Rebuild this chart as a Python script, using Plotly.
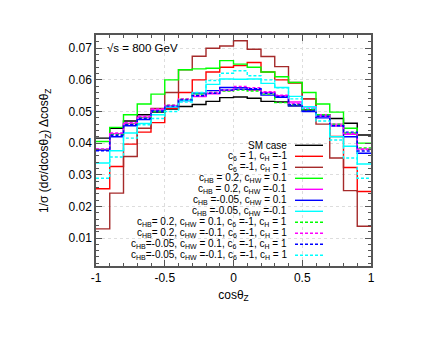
import plotly.graph_objects as go

bin_edges = [-1.0, -0.9, -0.8, -0.7, -0.6, -0.5, -0.4, -0.3, -0.2, -0.1, 0.0,
             0.1, 0.2, 0.3, 0.4, 0.5, 0.6, 0.7, 0.8, 0.9, 1.0]

sm_case = [0.0416, 0.0447, 0.0470, 0.0490, 0.0498, 0.0508, 0.0516, 0.0522, 0.0532, 0.0544,
           0.0546, 0.0542, 0.0532, 0.0530, 0.0518, 0.0505, 0.0490, 0.0478, 0.0463, 0.0426]
c6_p1_cH_m1 = [0.0256, 0.0326, 0.0397, 0.0435, 0.0465, 0.0510, 0.0560, 0.0600, 0.0625, 0.0640,
               0.0645, 0.0655, 0.0625, 0.0600, 0.0590, 0.0540, 0.0485, 0.0421, 0.0323, 0.0247]
c6_m1_cH_p1 = [0.0129, 0.0242, 0.0358, 0.0447, 0.0510, 0.0560, 0.0632, 0.0675, 0.0700, 0.0707,
               0.0724, 0.0697, 0.0674, 0.0642, 0.0592, 0.0540, 0.0460, 0.0353, 0.0250, 0.0137]
hb02_hw01 = [0.0405, 0.0450, 0.0490, 0.0524, 0.0555, 0.0600, 0.0632, 0.0635, 0.0637, 0.0661,
             0.0650, 0.0640, 0.0625, 0.0610, 0.0592, 0.0560, 0.0524, 0.0498, 0.0447, 0.0400]
hb02_hwm01 = [0.0380, 0.0430, 0.0462, 0.0482, 0.0505, 0.0518, 0.0535, 0.0547, 0.0556, 0.0566,
              0.0570, 0.0567, 0.0560, 0.0550, 0.0530, 0.0515, 0.0490, 0.0460, 0.0428, 0.0382]
hbm005_hw01 = [0.0378, 0.0420, 0.0455, 0.0475, 0.0500, 0.0515, 0.0535, 0.0558, 0.0566, 0.0576,
               0.0575, 0.0570, 0.0552, 0.0545, 0.0518, 0.0500, 0.0480, 0.0455, 0.0420, 0.0368]
hbm005_hwm01 = [0.0337, 0.0376, 0.0432, 0.0462, 0.0490, 0.0515, 0.0535, 0.0555, 0.0586, 0.0603,
                0.0602, 0.0603, 0.0589, 0.0576, 0.0548, 0.0515, 0.0485, 0.0420, 0.0390, 0.0334]
hb02_hw01_c6 = [0.0380, 0.0428, 0.0460, 0.0480, 0.0500, 0.0520, 0.0540, 0.0555, 0.0560, 0.0565,
                0.0568, 0.0565, 0.0555, 0.0528, 0.0522, 0.0505, 0.0490, 0.0460, 0.0432, 0.0385]
hb02_hwm01_c6 = [0.0382, 0.0432, 0.0465, 0.0485, 0.0508, 0.0520, 0.0540, 0.0552, 0.0560, 0.0568,
                 0.0579, 0.0575, 0.0563, 0.0552, 0.0525, 0.0510, 0.0485, 0.0455, 0.0430, 0.0380]
hbm005_hw01_c6 = [0.0376, 0.0425, 0.0458, 0.0478, 0.0502, 0.0517, 0.0537, 0.0550, 0.0558, 0.0568,
                  0.0570, 0.0572, 0.0558, 0.0548, 0.0522, 0.0502, 0.0485, 0.0455, 0.0435, 0.0375]
hbm005_hwm01_c6 = [0.0289, 0.0356, 0.0416, 0.0458, 0.0478, 0.0500, 0.0530, 0.0560, 0.0598, 0.0621,
                   0.0629, 0.0613, 0.0600, 0.0575, 0.0540, 0.0510, 0.0470, 0.0410, 0.0353, 0.0289]

labels = [
    "SM case",
    "c<sub>6</sub> = 1, c<sub>H</sub> =-1",
    "c<sub>6</sub> =-1, c<sub>H</sub> = 1",
    "c<sub>HB</sub> = 0.2, c<sub>HW</sub> = 0.1",
    "c<sub>HB</sub> = 0.2, c<sub>HW</sub> =-0.1",
    "c<sub>HB</sub> =-0.05, c<sub>HW</sub> = 0.1",
    "c<sub>HB</sub> =-0.05, c<sub>HW</sub> =-0.1",
    "c<sub>HB</sub>= 0.2, c<sub>HW</sub> = 0.1, c<sub>6</sub> =-1, c<sub>H</sub> = 1",
    "c<sub>HB</sub>= 0.2, c<sub>HW</sub> =-0.1, c<sub>6</sub> =-1, c<sub>H</sub> = 1",
    "c<sub>HB</sub>=-0.05, c<sub>HW</sub> = 0.1, c<sub>6</sub> =-1, c<sub>H</sub> = 1",
    "c<sub>HB</sub>=-0.05, c<sub>HW</sub> =-0.1, c<sub>6</sub> =-1, c<sub>H</sub> = 1",
]
series = [sm_case, c6_p1_cH_m1, c6_m1_cH_p1, hb02_hw01, hb02_hwm01, hbm005_hw01,
          hbm005_hwm01, hb02_hw01_c6, hb02_hwm01_c6, hbm005_hw01_c6, hbm005_hwm01_c6]
colors = ["#000000", "#ff0000", "#a52a2a", "#00ff00", "#ff00ff", "#0000ff", "#00ffff",
          "#00ff00", "#ff00ff", "#0000ff", "#00ffff"]
dashes = ["solid"] * 7 + ["3px,2px"] * 4

FONT = "Liberation Sans, Arial, sans-serif"
L, R, T, B = 88, 73, 27, 79
W, H = 436, 337
pw, ph = W - L - R, H - T - B

fig = go.Figure()
for vals, col, dsh in zip(series, colors, dashes):
    fig.add_trace(go.Scatter(
        x=bin_edges, y=vals + [vals[-1]], mode="lines", line_shape="hv",
        line=dict(color=col, width=1.4, dash=dsh), showlegend=False, hoverinfo="skip"))

# custom legend (text right-aligned, sample on the right, gnuplot style)
shapes = []
annotations = []
for k, (lab, col, dsh) in enumerate(zip(labels, colors, dashes)):
    ypix = 137.3 + 11.0 * k
    yp = (T + ph - ypix) / ph
    annotations.append(dict(xref="paper", yref="paper", x=(280 - L) / pw, y=yp,
                            xanchor="right", yanchor="middle", text=lab, showarrow=False,
                            borderpad=0,
                            font=dict(family=FONT, size=10, color="#000000")))
    shapes.append(dict(type="line", xref="paper", yref="paper",
                       x0=(287 - L) / pw, x1=(315 - L) / pw, y0=yp, y1=yp,
                       line=dict(color=col, width=1.4, dash=dsh)))

annotations.append(dict(xref="paper", yref="paper", x=(97 - L) / pw, y=(T + ph - 40) / ph,
                        xanchor="left", yanchor="middle", text="√s = 800 GeV", showarrow=False,
                        font=dict(family=FONT, size=11.5, color="#000000")))

# y-axis title placed like the gnuplot label
annotations.append(dict(xref="paper", yref="paper", x=(37 - L) / pw, y=(T + ph - 143) / ph,
                        xanchor="center", yanchor="middle", textangle=-90,
                        text="1/σ (dσ/dcosθ<sub>Z</sub>) Δcosθ<sub>Z</sub>", showarrow=False,
                        font=dict(family=FONT, size=12, color="#000000")))

axis_common = dict(showline=True, linecolor="#555555", linewidth=1.5, mirror="allticks",
                   ticks="inside", ticklen=6, tickcolor="#555555", tickwidth=1,
                   showgrid=True, gridcolor="#dddddd", griddash="dot", gridwidth=1,
                   zeroline=False, tickfont=dict(family=FONT, size=12, color="#000000"))

fig.update_layout(
    width=W, height=H, margin=dict(l=L, r=R, t=T, b=B),
    paper_bgcolor="white", plot_bgcolor="white",
    shapes=shapes, annotations=annotations,
    xaxis=dict(range=[-1, 1], tickmode="array", tickvals=[-1, -0.5, 0, 0.5, 1],
               ticktext=["-1", "-0.5", "0", "0.5", "1"],
               minor=dict(dtick=0.1, ticks="inside", ticklen=3, tickcolor="#555555", showgrid=False),
               title=dict(text="cosθ<sub>Z</sub>", font=dict(family=FONT, size=12, color="#000000"),
                          standoff=6),
               **axis_common),
    yaxis=dict(range=[0.00115, 0.0742], tickmode="array",
               tickvals=[0.01, 0.02, 0.03, 0.04, 0.05, 0.06, 0.07],
               ticktext=["0.01", "0.02", "0.03", "0.04", "0.05", "0.06", "0.07"],
               minor=dict(dtick=0.002, tick0=0, ticks="inside", ticklen=3, tickcolor="#555555", showgrid=False),
               **axis_common),
)

fig.write_html("out.html")
